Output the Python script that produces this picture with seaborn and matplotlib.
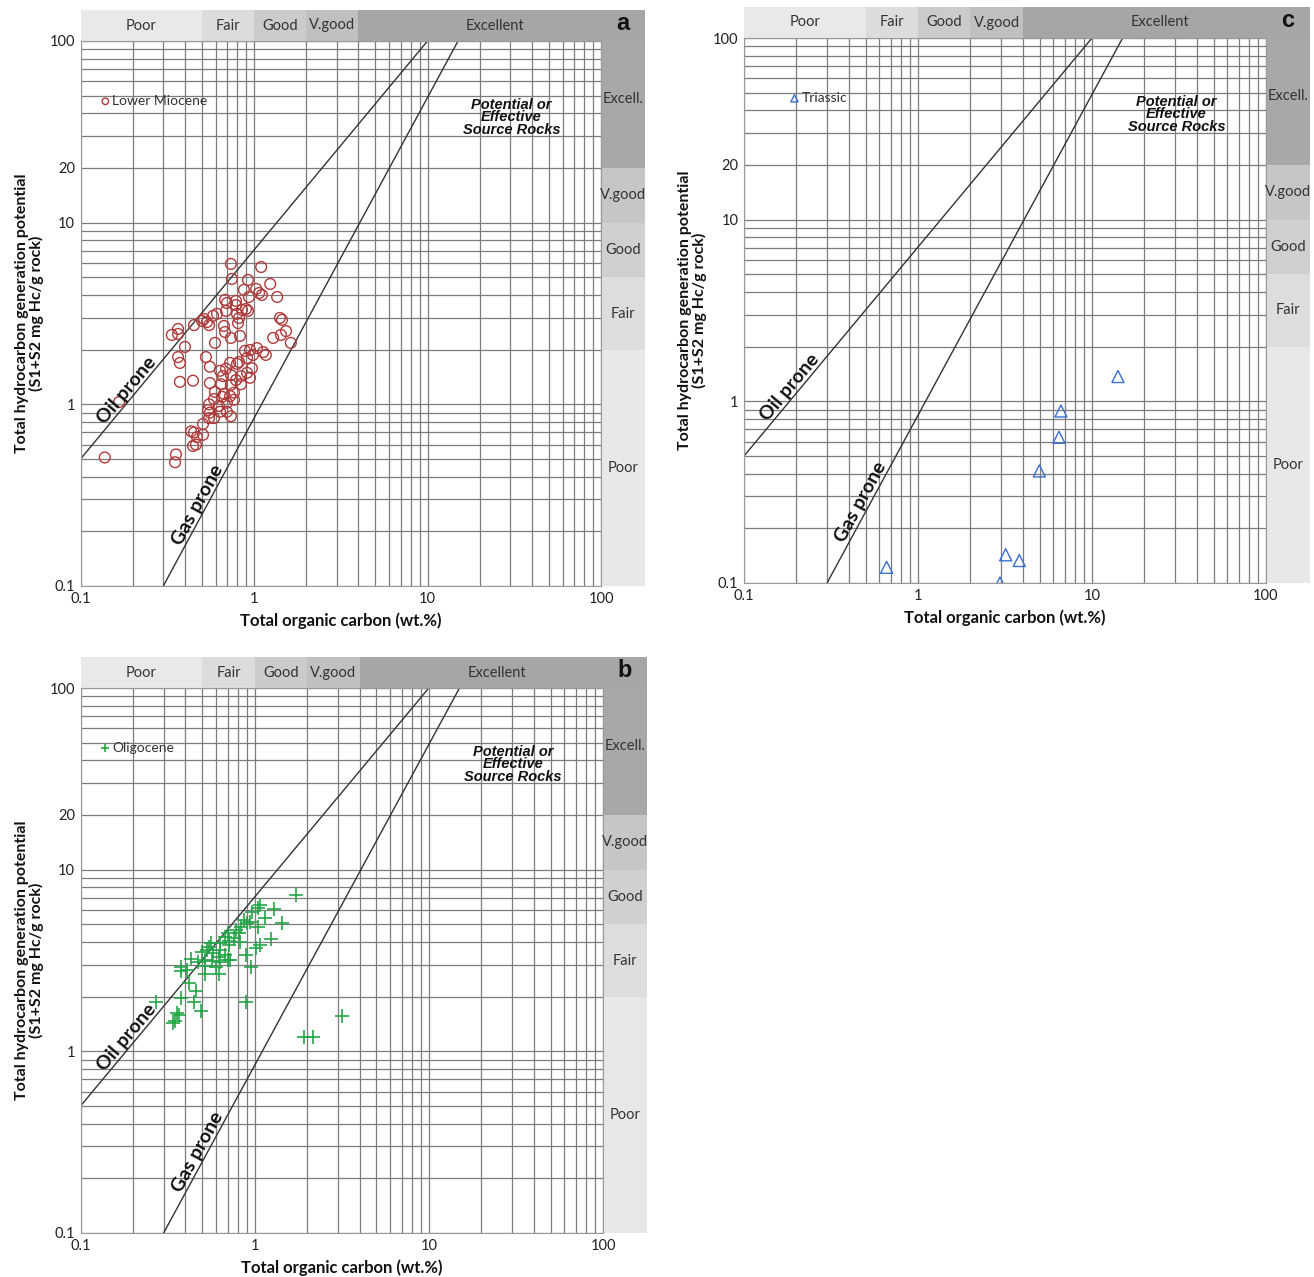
import matplotlib
matplotlib.use("Agg")
import matplotlib.pyplot as plt
import matplotlib.transforms as mtrans
from matplotlib.patches import Rectangle
from matplotlib.ticker import LogLocator, FixedLocator, FixedFormatter, NullFormatter
import pandas as pd
import seaborn as sns

# ---------------- data ----------------
miocene_toc = [0.736, 1.10, 0.746, 1.24, 0.923, 0.875, 1.03, 1.07, 1.11, 1.36,
               0.935, 0.681, 0.698, 0.787, 0.787, 0.853, 0.923, 0.899, 0.690, 0.798,
               0.612, 0.581, 0.820, 0.809, 0.515, 0.501, 0.536, 0.551, 0.671, 0.681,
               0.736, 0.830, 0.451, 0.365, 0.336, 0.365, 0.400, 0.596, 1.41, 1.45,
               1.53, 1.43, 1.29, 1.63, 1.04, 1.13, 1.17, 0.887, 0.948, 0.986,
               0.912, 0.528, 0.365, 0.374, 0.557, 0.637, 0.690, 0.728, 0.798, 0.820,
               0.973, 0.912, 0.662, 0.736, 0.787, 0.841, 0.948, 0.374, 0.445, 0.557,
               0.646, 0.736, 0.841, 0.596, 0.671, 0.728, 0.767, 0.655, 0.588, 0.767,
               0.698, 0.551, 0.628, 0.698, 0.543, 0.557, 0.637, 0.551, 0.588, 0.736,
               0.167, 0.508, 0.434, 0.451, 0.469, 0.445, 0.463, 0.508, 0.138, 0.355,
               0.351]
miocene_s1s2 = [5.93, 5.70, 4.90, 4.60, 4.84, 4.27, 4.32, 4.10, 4.00, 3.90,
                3.90, 3.76, 3.61, 3.71, 3.52, 3.31, 3.27, 3.35, 3.27, 3.15,
                3.15, 3.07, 2.99, 2.80, 2.95, 2.88, 2.84, 2.73, 2.70, 2.50,
                2.32, 2.38, 2.73, 2.60, 2.41, 2.44, 2.07, 2.18, 2.99, 2.92,
                2.53, 2.41, 2.32, 2.18, 2.04, 1.94, 1.87, 1.97, 1.99, 1.87,
                1.80, 1.82, 1.82, 1.69, 1.61, 1.53, 1.57, 1.69, 1.67, 1.71,
                1.58, 1.49, 1.43, 1.45, 1.36, 1.43, 1.40, 1.33, 1.35, 1.31,
                1.29, 1.28, 1.29, 1.17, 1.14, 1.11, 1.16, 1.10, 1.07, 1.06,
                1.02, 1.00, 0.98, 0.91, 0.93, 0.90, 0.91, 0.84, 0.84, 0.86,
                1.03, 0.78, 0.71, 0.70, 0.66, 0.59, 0.60, 0.68, 0.51, 0.53,
                0.48]

oligocene_toc = [1.73, 1.07, 1.04, 1.29, 0.96, 1.15, 1.43, 0.87, 0.90, 0.84,
                 1.04, 0.94, 0.78, 0.70, 0.81, 0.68, 0.76, 1.24, 0.71, 0.82,
                 0.63, 0.56, 1.08, 1.02, 0.71, 0.55, 0.63, 0.53, 0.50, 0.58,
                 0.68, 0.89, 0.62, 0.70, 0.43, 0.52, 0.57, 0.47, 0.63, 0.72,
                 0.38, 0.41, 0.52, 0.60, 0.95, 0.52, 0.62, 0.38, 0.42, 0.46,
                 0.45, 0.38, 0.27, 0.89, 0.49, 0.36, 0.37, 0.35, 0.34, 3.17,
                 1.91, 2.15]
oligocene_s1s2 = [7.28, 6.39, 6.18, 6.08, 5.87, 5.44, 5.07, 5.29, 5.09, 4.86,
                  4.86, 5.18, 4.66, 4.47, 4.47, 4.28, 4.19, 4.14, 4.05, 4.02,
                  3.94, 3.94, 3.85, 3.69, 3.84, 3.77, 3.61, 3.61, 3.54, 3.47,
                  3.39, 3.39, 3.32, 3.18, 3.21, 3.18, 3.14, 3.12, 3.12, 3.18,
                  2.90, 2.81, 2.95, 2.93, 2.93, 2.66, 2.66, 2.78, 2.39, 2.15,
                  1.88, 1.96, 1.88, 1.87, 1.67, 1.62, 1.59, 1.46, 1.44, 1.56,
                  1.20, 1.20]

triassic_toc = [14.1, 6.63, 6.46, 4.98, 3.19, 3.82, 0.66, 2.96]
triassic_s1s2 = [1.37, 0.885, 0.634, 0.414, 0.143, 0.133, 0.122, 0.10]

oil_prone_toc = [0.1, 10]
oil_prone_s1s2 = [0.5, 100]
gas_prone_toc = [0.3, 15]
gas_prone_s1s2 = [0.1, 100]

toc_classes = ["Poor", "Fair", "Good", "V.good", "Excellent"]
toc_bounds = [0.1, 0.5, 1, 2, 4, 100]
s1s2_classes = ["Poor", "Fair", "Good", "V.good", "Excell."]
s1s2_bounds = [0.1, 2, 5, 10, 20, 100]

x_ticks = [0.1, 1, 10, 100]
x_ticklabels = ["0.1", "1", "10", "100"]
y_ticks = [0.1, 1, 10, 20, 100]
y_ticklabels = ["0.1", "1", "10", "20", "100"]

# ---------------- style ----------------
sns.set_theme(style="white")
plt.rcParams["font.family"] = ["Lato", "DejaVu Sans"]

top_colors = ["#e9e9e9", "#dcdcdc", "#cbcbcb", "#c0c0c0", "#a6a6a6"]
right_colors = ["#e8e8e8", "#dddddd", "#d0d0d0", "#c6c6c6", "#a8a8a8"]
GRID = "#7c7c7c"

W, H = 1314, 1277
fig = plt.figure(figsize=(W / 100, H / 100), dpi=100)


def make_axes(left_px, top_px, right_px, bottom_px):
    return fig.add_axes([left_px / W, 1 - bottom_px / H,
                         (right_px - left_px) / W, (bottom_px - top_px) / H])


def draw_panel(ax, toc, s1s2, marker, color, label, letter, scatter_kw,
               legend_anchor):
    ax.set_xscale("log")
    ax.set_yscale("log")
    ax.set_xlim(0.1, 100)
    ax.set_ylim(0.1, 100)

    # grid
    ax.xaxis.set_major_locator(FixedLocator(x_ticks))
    ax.xaxis.set_major_formatter(FixedFormatter(x_ticklabels))
    ax.xaxis.set_minor_locator(LogLocator(base=10, subs=range(2, 10)))
    ax.xaxis.set_minor_formatter(NullFormatter())
    ax.yaxis.set_major_locator(FixedLocator(y_ticks))
    ax.yaxis.set_major_formatter(FixedFormatter(y_ticklabels))
    ax.yaxis.set_minor_locator(LogLocator(base=10, subs=range(2, 10)))
    ax.yaxis.set_minor_formatter(NullFormatter())
    ax.grid(True, which="both", color=GRID, lw=0.9)
    ax.set_axisbelow(True)
    ax.tick_params(which="both", length=0, labelsize=10.5, colors="#222222")
    ax.tick_params(axis="x", pad=4)
    ax.tick_params(axis="y", pad=4)
    for sp in ax.spines.values():
        sp.set_color("#9a9a9a")
        sp.set_linewidth(0.8)

    # oil / gas lines
    sns.lineplot(x=oil_prone_toc, y=oil_prone_s1s2, ax=ax, color="#333333",
                 lw=1.0, sort=False, zorder=2)
    sns.lineplot(x=gas_prone_toc, y=gas_prone_s1s2, ax=ax, color="#333333",
                 lw=1.0, sort=False, zorder=2)

    # data
    df = pd.DataFrame({"toc": toc, "s1s2": s1s2})
    sns.scatterplot(data=df, x="toc", y="s1s2", ax=ax, marker=marker,
                    label=label, zorder=3, **scatter_kw)
    ax.set_xlim(0.1, 100)
    ax.set_ylim(0.1, 100)

    leg = ax.legend(loc="center left", bbox_to_anchor=legend_anchor,
                    frameon=False, fontsize=10, markerscale=0.6,
                    handlelength=0.8, handletextpad=0.1, borderpad=0,
                    borderaxespad=0)
    for t in leg.get_texts():
        t.set_color("#333333")

    # top classification band (x in data, y in axes)
    tr_top = mtrans.blended_transform_factory(ax.transData, ax.transAxes)
    band_h = 31 / 545
    for i, name in enumerate(toc_classes):
        x0, x1 = toc_bounds[i], toc_bounds[i + 1]
        ax.add_patch(Rectangle((x0, 1.0), x1 - x0, band_h, transform=tr_top,
                               facecolor=top_colors[i], edgecolor="none",
                               clip_on=False, zorder=0))
        xc = (x0 * x1) ** 0.5 if name != "Excellent" else 24.5
        ax.text(xc, 1.0 + band_h / 2, name, transform=tr_top, ha="center",
                va="center", fontsize=10.5, color="#333333")
    right_w = 44 / 521
    ax.add_patch(Rectangle((1.0, 1.0), right_w, band_h, transform=ax.transAxes,
                           facecolor=top_colors[-1], edgecolor="none",
                           clip_on=False, zorder=0))

    # right classification band (x in axes, y in data)
    tr_right = mtrans.blended_transform_factory(ax.transAxes, ax.transData)
    for i, name in enumerate(s1s2_classes):
        y0, y1 = s1s2_bounds[i], s1s2_bounds[i + 1]
        ax.add_patch(Rectangle((1.0, y0), right_w, y1 - y0, transform=tr_right,
                               facecolor=right_colors[i], edgecolor="none",
                               clip_on=False, zorder=0))
        yc = (y0 * y1) ** 0.5 if name != "Excell." else 48
        ax.text(1.0 + right_w / 2, yc, name, transform=tr_right, ha="center",
                va="center", fontsize=10.5, color="#333333")

    # panel letter
    ax.text(1.0 + right_w / 2, 1.0 + band_h * 0.55, letter,
            transform=ax.transAxes, ha="center", va="center", fontsize=17,
            fontweight="bold", color="#111111",
            family=["Liberation Sans", "DejaVu Sans"])

    # annotations
    ax.text(0.20, 1.11, "Oil prone", rotation=50, rotation_mode="anchor",
            ha="center", va="bottom", fontsize=14, fontweight="bold",
            color="#111111")
    ax.text(0.52, 0.264, "Gas prone", rotation=61.5, rotation_mode="anchor",
            ha="center", va="bottom", fontsize=14, fontweight="bold",
            color="#111111")
    ax.text(30.5, 38, "Potential or\nEffective\nSource Rocks", ha="center",
            va="center", fontsize=10.5, fontweight="bold", style="italic",
            linespacing=0.85, color="#111111",
            family=["Liberation Sans", "DejaVu Sans"])

    ax.set_xlabel("Total organic carbon (wt.%)", fontsize=12,
                  fontweight="bold", color="#111111")
    ax.xaxis.set_label_coords(0.5, -0.048)
    ax.set_ylabel("Total hydrocarbon generation potential\n(S1+S2 mg Hc/g rock)",
                  fontsize=11.5, fontweight="bold", color="#111111",
                  linespacing=1.0)
    ax.yaxis.set_label_coords(-0.07, 0.5)


ax_a = make_axes(80.5, 41, 601, 586)
ax_c = make_axes(744, 38, 1266, 583)
ax_b = make_axes(80.5, 688, 603, 1233)

draw_panel(ax_a, miocene_toc, miocene_s1s2, "o", "#b03a3a", "Lower Miocene", "a",
           dict(s=60, facecolor="none", edgecolor="#b03a3a", linewidth=1.0,
                color="#b03a3a"),
           (0.037, 0.89))
draw_panel(ax_b, oligocene_toc, oligocene_s1s2, "+", "#23a548", "Oligocene", "b",
           dict(s=100, linewidth=1.2, color="#23a548"),
           (0.037, 0.89))
draw_panel(ax_c, triassic_toc, triassic_s1s2, "^", "#3a6fd0", "Triassic", "c",
           dict(s=75, facecolor="none", edgecolor="#3a6fd0", linewidth=1.0,
                color="#3a6fd0"),
           (0.086, 0.89))

fig.savefig("out.png", dpi=100, facecolor="white")
